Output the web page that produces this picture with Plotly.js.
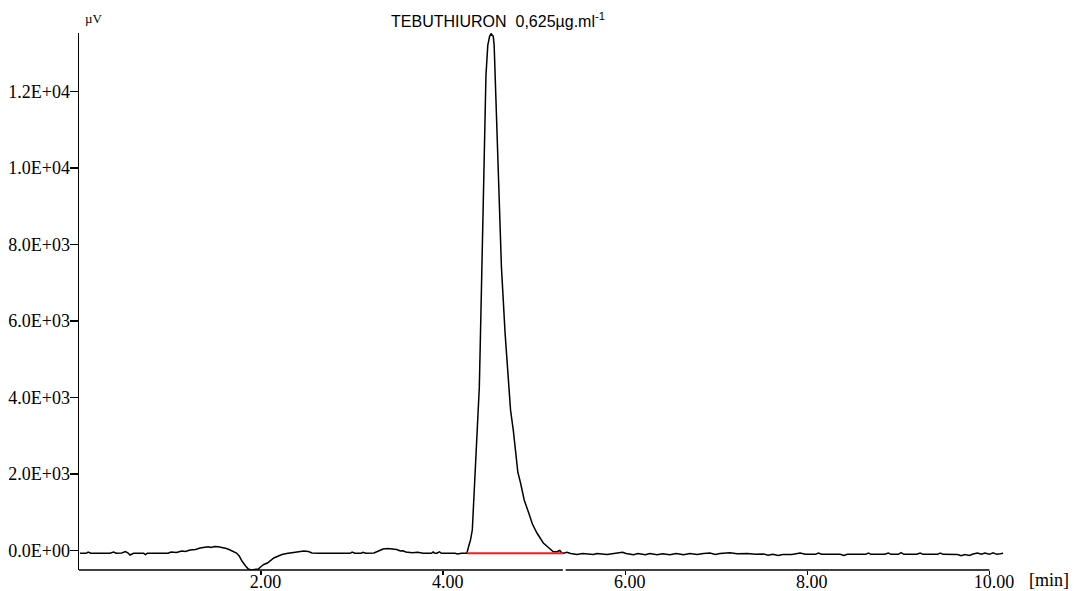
<!DOCTYPE html>
<html>
<head>
<meta charset="utf-8">
<script src="https://cdn.plot.ly/plotly-3.0.1.min.js"></script>
<style>html,body{margin:0;padding:0;background:#fff;}#chart{width:1074px;height:591px;}</style>
</head>
<body>
<div id="chart"></div>
<script>
// Retention time (min) and detector signal (µV)
const retentionTime = [
  0.01,0.08,0.10,0.13,0.34,0.38,0.41,0.47,0.51,0.54,0.56,0.60,0.71,0.73,0.75,0.98,1.01,1.07,1.13,1.17,
  1.22,1.28,1.33,1.39,1.42,1.45,1.49,1.53,1.57,1.62,1.66,1.69,1.73,1.76,1.79,1.83,1.86,1.89,1.94,1.97,
  2.00,2.03,2.07,2.10,2.14,2.19,2.23,2.28,2.32,2.37,2.43,2.47,2.52,2.56,2.63,2.67,2.98,3.00,3.03,3.10,
  3.12,3.15,3.24,3.29,3.34,3.39,3.45,3.49,3.53,3.56,3.59,3.66,3.72,3.78,3.87,3.89,3.91,3.93,3.96,3.98,
  4.13,4.16,4.20,4.26,4.279,4.30,4.32,4.33,4.35,4.37,4.383,4.397,4.41,4.425,4.44,4.455,4.47,4.49,4.51,4.527,
  4.55,4.56,4.57,4.59,4.62,4.64,4.68,4.72,4.74,4.77,4.80,4.82,4.85,4.89,4.94,4.98,5.03,5.07,5.10,5.15,
  5.18,5.21,5.25,5.28,5.30,5.32,5.36,5.40,5.47,5.53,5.65,5.69,5.80,5.86,5.97,6.01,6.09,6.14,6.22,6.27,
  6.35,6.41,6.49,6.56,6.64,6.71,6.79,6.86,6.93,6.99,7.04,7.15,7.23,7.34,7.43,7.52,7.57,7.62,7.68,7.73,
  7.83,7.92,7.98,8.09,8.12,8.16,8.36,8.40,8.44,8.64,8.67,8.70,8.85,8.89,8.92,9.00,9.03,9.06,9.20,9.24,
  9.27,9.43,9.46,9.49,9.65,9.69,9.73,9.78,9.82,9.87,9.91,9.95,10.00,10.04,10.08,10.12,10.15
];
const signalUV = [
  -70,-70,-37,-70,-70,-37,-70,-63,-24,-63,-115,-70,-70,-102,-70,-70,-37,-50,-10,-24,
  16,29,68,89,102,81,107,99,81,55,16,-24,-63,-141,-272,-402,-481,-505,-500,-481,
  -415,-363,-324,-272,-193,-141,-102,-76,-63,-37,-24,-10,-24,-63,-70,-70,-70,-37,-70,-70,
  -44,-70,-63,-10,42,55,50,29,-10,-3,-37,-55,-44,-70,-70,-37,-70,-70,-31,-70,
  -70,-89,-70,-70,102,277,538,1060,1844,2889,3672,4273,5684,7408,9158,11117,12423,13207,13442,13512,
  13442,13207,12423,11117,9027,7408,5684,4273,3672,3150,2497,2053,1766,1322,982,695,460,316,199,94,
  29,-29,-29,3,-50,-70,-44,-76,-102,-76,-102,-76,-102,-76,-44,-76,-107,-76,-107,-76,
  -107,-81,-107,-76,-107,-76,-102,-76,-63,-102,-76,-57,-83,-76,-97,-89,-123,-94,-128,-102,
  -102,-63,-97,-97,-63,-97,-97,-128,-97,-97,-63,-97,-97,-63,-97,-97,-55,-97,-97,-63,
  -97,-97,-63,-97,-102,-133,-102,-128,-89,-63,-94,-63,-97,-55,-97,-83,-70
];
// Integration baseline of the TEBUTHIURON peak
const baselineTime = [4.26, 5.32];
const baselineUV = [-70, -70];

const yTickVals = [0, 2000, 4000, 6000, 8000, 10000, 12000];
const yTickText = ['0.0E+00','2.0E+03','4.0E+03','6.0E+03','8.0E+03','1.0E+04','1.2E+04'];
const xTickVals = [2, 4, 6, 8, 10];
const xTickText = ['2.00','4.00','6.00','8.00','10.00'];

const serif = 'Liberation Serif, Times New Roman, serif';
const sans = 'Liberation Sans, Arial, sans-serif';

const traces = [
  {x: retentionTime, y: signalUV, type: 'scatter', mode: 'lines',
   line: {color: '#000000', width: 1.5}, hoverinfo: 'skip'},
  {x: baselineTime, y: baselineUV, type: 'scatter', mode: 'lines',
   line: {color: '#ff1a1a', width: 2}, hoverinfo: 'skip'}
];

const layout = {
  width: 1074, height: 591,
  margin: {l: 79, r: 70, t: 33, b: 21},
  paper_bgcolor: '#ffffff', plot_bgcolor: '#ffffff',
  showlegend: false,
  title: {text: 'TEBUTHIURON\u00a0\u00a00,625\u00b5g.ml<sup>-1</sup>',
          font: {family: sans, size: 16, color: '#000'},
          x: 0.4637, xanchor: 'center', xref: 'container',
          y: 0.9645, yanchor: 'middle', yref: 'container'},
  xaxis: {range: [0, 10.16], showgrid: false, zeroline: false, showline: false,
          tickmode: 'array', tickvals: xTickVals,
          ticktext: xTickText.map(t => '\u00a0\u00a0' + t),
          ticks: 'outside', ticklen: 4, tickwidth: 1.5, tickcolor: '#000',
          ticklabelstandoff: -9,
          tickfont: {family: serif, size: 18, color: '#000'}},
  yaxis: {range: [-507, 13530], showgrid: false, zeroline: false,
          showline: true, linecolor: '#000', linewidth: 1.5,
          tickmode: 'array', tickvals: yTickVals, ticktext: yTickText,
          ticks: 'outside', ticklen: 8, tickwidth: 1.5, tickcolor: '#000',
          ticklabelstandoff: -4,
          tickfont: {family: serif, size: 18, color: '#000'}},
  shapes: [
    {type: 'line', xref: 'x', yref: 'paper', x0: 0, x1: 5.315, y0: 0, y1: 0,
     line: {color: '#000', width: 1.5}},
    {type: 'line', xref: 'x', yref: 'paper', x0: 5.345, x1: 10.0, y0: 0, y1: 0,
     line: {color: '#000', width: 1.5}}
  ],
  annotations: [
    {text: '\u00b5V', xref: 'paper', yref: 'paper', x: 0.004, y: 1.027,
     xanchor: 'left', yanchor: 'middle', showarrow: false,
     font: {family: serif, size: 13, color: '#000'}},
    {text: '[min]', xref: 'paper', yref: 'paper', x: 1.025, y: -0.0186,
     xanchor: 'left', yanchor: 'middle', showarrow: false,
     font: {family: serif, size: 18, color: '#000'}}
  ]
};

Plotly.newPlot('chart', traces, layout, {staticPlot: true, displayModeBar: false});
</script>
</body>
</html>
